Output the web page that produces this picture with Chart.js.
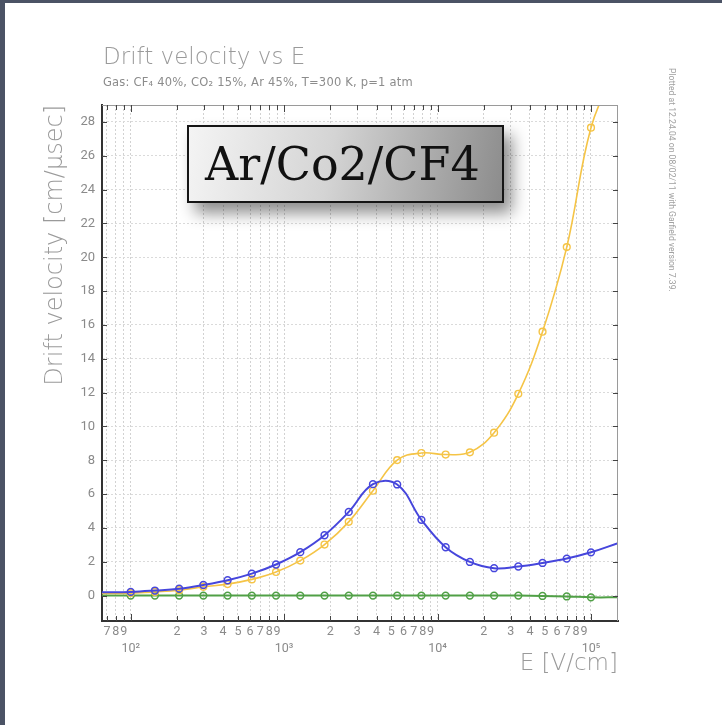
<!DOCTYPE html>
<html>
<head>
<meta charset="utf-8">
<script src="https://cdn.jsdelivr.net/npm/chart.js@4.4.0/dist/chart.umd.min.js"></script>
<style>
  body { margin: 0; background: #fff; }
  #page { position: relative; width: 722px; height: 725px; overflow: hidden; background: #fff; }
  #myChart { position: absolute; left: 0; top: 0; }
  .edge { position: absolute; background: #4b5365; }
  .txt { position: absolute; white-space: nowrap; font-family: "DejaVu Sans ExtraLight", "DejaVu Sans", sans-serif; color: #9a9a9a; line-height: 1; }
  #title { left: 103px; top: 45px; font-size: 23px; font-weight: 200; }
  #sub { left: 103px; top: 77px; font-size: 11.5px; color: #8c8c8c; font-family: "DejaVu Sans", sans-serif; letter-spacing: 0.2px; }
  #stamp { left: 667px; top: 68px; font-size: 8.6px; color: #a0a0a0; writing-mode: vertical-rl; font-family: Roboto, sans-serif; }
  #gasBox {
    position: absolute; left: 187px; top: 125px; width: 317px; height: 78px;
    box-sizing: border-box; border: 2px solid #151515;
    background: linear-gradient(100deg, #f4f4f4 0%, #d4d4d4 45%, #8c8c8c 100%);
    box-shadow: 8px 10px 15px rgba(0,0,0,0.45);
    font-family: "DejaVu Serif", serif; font-size: 46px; color: #111;
    line-height: 74px; padding-left: 16px; white-space: nowrap;
  }
</style>
</head>
<body>
<div id="page">
  <canvas id="myChart" width="722" height="725"></canvas>
  <div class="edge" style="left:0;top:0;width:5px;height:725px"></div>
  <div class="edge" style="left:0;top:0;width:722px;height:3px"></div>
  <div class="txt" id="title">Drift velocity vs E</div>
  <div class="txt" id="sub">Gas: CF₄ 40%, CO₂ 15%, Ar 45%, T=300 K, p=1 atm</div>
  <div class="txt" id="stamp">Plotted at 12.24.04 on 08/02/11 with Garfield version 7.39.</div>
  <div id="gasBox">Ar/Co2/CF4</div>
</div>

<script type="text/javascript">
  // electric field values of the computed points [V/cm]
  var eField = [100, 143.8, 206.9, 297.6, 428.1, 615.8, 885.9, 1274, 1833, 2637,
                3793, 5456, 7848, 11290, 16240, 23360, 33600, 48330, 69520, 100000];
  // drift velocities [cm/usec]
  var vBlue = [0.22, 0.30, 0.41, 0.63, 0.91, 1.30, 1.84, 2.57, 3.57, 4.95,
               6.59, 6.57, 4.48, 2.86, 1.99, 1.62, 1.72, 1.93, 2.19, 2.56];
  var vYellow = [0.15, 0.22, 0.32, 0.52, 0.68, 0.96, 1.40, 2.07, 3.02, 4.36,
                 6.20, 8.01, 8.43, 8.34, 8.47, 9.63, 11.93, 15.6, 20.6, 27.66];
  var vGreen = [0.0, 0.0, 0.0, 0.0, 0.0, 0.0, 0.0, 0.0, 0.0, 0.0,
                0.0, 0.0, 0.0, 0.0, 0.0, 0.0, 0.0, -0.02, -0.05, -0.1];
  // where the fitted curves run on past the first / last point
  var blueEnds = [[65, 0.2], [150000, 3.1]];
  var yellowEnds = [[65, 0.13], [145000, 31.2]];
  var greenEnds = [[65, 0.0], [150000, -0.1]];

  var xTickValues = [70, 80, 90, 100, 200, 300, 400, 500, 600, 700, 800, 900,
                     1000, 2000, 3000, 4000, 5000, 6000, 7000, 8000, 9000,
                     10000, 20000, 30000, 40000, 50000, 60000, 70000, 80000, 90000, 100000];
  var xTickText = ['7', '8', '9', ['', '10²'], '2', '3', '4', '5', '6', '7', '8', '9',
                   ['', '10³'], '2', '3', '4', '5', '6', '7', '8', '9',
                   ['', '10⁴'], '2', '3', '4', '5', '6', '7', '8', '9', ['', '10⁵']];
  var yTicks = [0, 2, 4, 6, 8, 10, 12, 14, 16, 18, 20, 22, 24, 26, 28];

  function series(vals, ends) {
    var pts = [{x: ends[0][0], y: ends[0][1]}];
    eField.forEach(function(e, i) { pts.push({x: e, y: vals[i]}); });
    pts.push({x: ends[1][0], y: ends[1][1]});
    return pts;
  }
  function radii(r) {
    var out = [0];
    eField.forEach(function() { out.push(r); });
    out.push(0);
    return out;
  }
  function isDecade(v) { return [100, 1000, 10000, 100000].indexOf(v) != -1; }

  // inward tick marks on all four sides plus the light top/right frame
  var frameTicks = {
    id: 'frameTicks',
    afterDraw: function(chart) {
      var ctx = chart.ctx, a = chart.chartArea, x = chart.scales.x, y = chart.scales.y;
      ctx.save();
      ctx.strokeStyle = '#9a9a9a';
      ctx.lineWidth = 1;
      ctx.beginPath();
      ctx.moveTo(a.left, a.top + 0.5); ctx.lineTo(a.right, a.top + 0.5);
      ctx.moveTo(a.right - 0.5, a.top); ctx.lineTo(a.right - 0.5, a.bottom);
      ctx.stroke();
      ctx.strokeStyle = '#444';
      ctx.beginPath();
      xTickValues.forEach(function(v) {
        var px = Math.round(x.getPixelForValue(v)) + 0.5;
        var len = isDecade(v) ? 7 : 5;
        ctx.moveTo(px, a.bottom); ctx.lineTo(px, a.bottom - len);
        ctx.moveTo(px, a.top); ctx.lineTo(px, a.top + len);
      });
      yTicks.forEach(function(v) {
        var py = Math.round(y.getPixelForValue(v)) + 0.5;
        ctx.moveTo(a.left, py); ctx.lineTo(a.left + 5, py);
        ctx.moveTo(a.right, py); ctx.lineTo(a.right - 5, py);
      });
      ctx.stroke();
      ctx.restore();
    }
  };

  var ctx = document.getElementById('myChart').getContext('2d');
  var chart = new Chart(ctx, {
      type: 'line',
      data: {
          datasets: [{
              label: 'blue',
              data: series(vBlue, blueEnds),
              borderColor: 'rgb(70, 70, 220)',
              backgroundColor: 'rgba(0,0,0,0)',
              borderWidth: 2,
              pointRadius: radii(3.4),
              pointBorderWidth: 1.5,
              tension: 0.4
          }, {
              label: 'yellow',
              data: series(vYellow, yellowEnds),
              borderColor: 'rgb(245, 196, 70)',
              backgroundColor: 'rgba(0,0,0,0)',
              borderWidth: 1.6,
              pointRadius: radii(3.4),
              pointBorderWidth: 1.4,
              tension: 0.4
          }, {
              label: 'green',
              data: series(vGreen, greenEnds),
              borderColor: 'rgb(80, 160, 70)',
              backgroundColor: 'rgba(0,0,0,0)',
              borderWidth: 2,
              pointRadius: radii(3.4),
              pointBorderWidth: 1.5,
              tension: 0.4
          }]
      },
      options: {
          responsive: false,
          animation: false,
          devicePixelRatio: 1,
          layout: { padding: { left: 5, top: 105, right: 104, bottom: 30 } },
          plugins: { legend: { display: false }, tooltip: { enabled: false } },
          scales: {
              x: {
                  type: 'logarithmic',
                  min: 65,
                  max: 150000,
                  afterBuildTicks: function(scale) {
                      scale.ticks = xTickValues.map(function(v) { return {value: v, major: isDecade(v)}; });
                  },
                  afterFit: function(scale) { scale.height = 74; },
                  ticks: {
                      autoSkip: false,
                      maxRotation: 0,
                      padding: 3,
                      color: '#8a8a8a',
                      font: { family: 'Roboto', size: 12.5, lineHeight: 1.3 },
                      callback: function(value) {
                          var i = xTickValues.indexOf(value);
                          return i == -1 ? '' : xTickText[i];
                      }
                  },
                  grid: { color: '#d2d2d2', drawTicks: false },
                  border: { color: '#333', width: 2, dash: [2, 2] },
                  title: {
                      display: true, text: 'E [V/cm]', align: 'end',
                      color: '#9a9a9a', padding: { top: 0, bottom: 17 },
                      font: { family: '"DejaVu Sans ExtraLight", "DejaVu Sans"', size: 23, weight: 200 }
                  }
              },
              y: {
                  min: -1.5,
                  max: 29,
                  afterBuildTicks: function(scale) {
                      scale.ticks = yTicks.map(function(v) { return {value: v}; });
                  },
                  afterFit: function(scale) { scale.width = 97; },
                  ticks: {
                      padding: 7,
                      color: '#8a8a8a',
                      font: { family: 'Roboto', size: 13 }
                  },
                  grid: { color: '#dadada', drawTicks: false },
                  border: { color: '#333', width: 2, dash: [2, 2] },
                  title: {
                      display: true, text: 'Drift velocity [cm/μsec]', align: 'end',
                      color: '#9a9a9a', padding: { top: 36, bottom: 0 },
                      font: { family: '"DejaVu Sans ExtraLight", "DejaVu Sans"', size: 24, weight: 200 }
                  }
              }
          }
      },
      plugins: [frameTicks]
  });
</script>
</body>
</html>
